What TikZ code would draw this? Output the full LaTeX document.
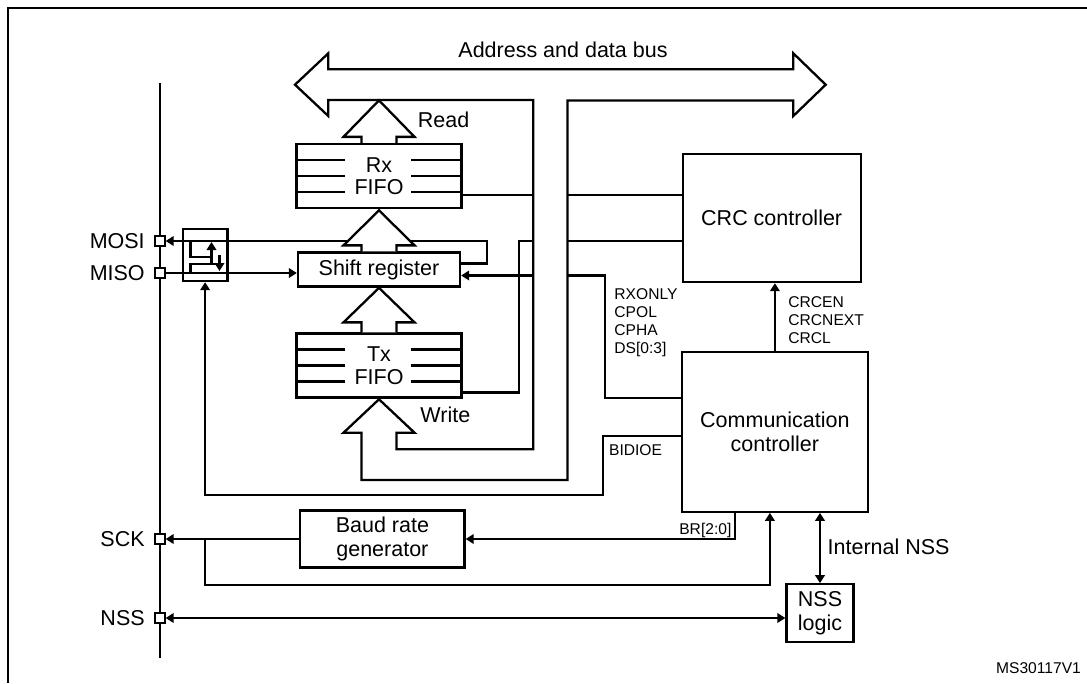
\documentclass[tikz,border=0pt]{standalone}
\usepackage{fontspec}
\setmainfont{Liberation Sans}
\usetikzlibrary{arrows.meta}
\begin{document}
\begin{tikzpicture}[x=1pt, y=-1pt, line width=2.3pt,
  every node/.style={font=\fontsize{21.5}{24.5}\selectfont},
  every label/.style={inner sep=0pt, xshift=-8.5pt},
  box/.style={draw, line width=2.3pt, inner sep=0pt, align=center},
  fifo/.style={box, minimum width=165pt, minimum height=64pt, font=\fontsize{21.5}{22.5}\selectfont},
  pin/.style={draw, fill=white, line width=1.8pt, minimum size=9.5pt, inner sep=0pt},
  sig/.style={font=\fontsize{15.6}{18.3}\selectfont, inner sep=0pt, align=left},
  arr/.style={-{Triangle[length=8pt,width=9.5pt]}},
  dblarr/.style={{Triangle[length=8pt,width=9.5pt]}-{Triangle[length=8pt,width=9.5pt]}},
  hollow/.style={fill=white, line join=miter}]
\useasboundingbox (0,0) rectangle (1087,683);
\draw[line width=2.6pt] (8,683) -- (8,8) -- (1087,8);

% address and data bus, going down into the write arrow
\draw[hollow] (328.3,100) -- (533.3,100) coordinate (wallL) -- (533.3,449.3) -- (396.5,449.3) -- (396.5,432.7) -- (414.5,432.7) -- (379,399.3) -- (343.5,432.7) -- (361.5,432.7) -- (361.5,480) -- (567.5,480) -- (567.5,100.5) coordinate (wallR) -- (793.3,100.5) -- (793.3,116) -- (825.7,84.7) -- (793.3,53.3) -- (793.3,69.3) -- (328.3,69.3) -- (328.3,53.3) -- (295,84.7) -- (328.3,116) -- cycle;
\node (bus) at (563,50) {Address and data bus};
\node[anchor=west, inner sep=0pt] (read) at (416.7,120) {Read};
\node[anchor=west, inner sep=0pt] (write) at (419.3,415) {Write};

% blocks
\node[fifo] (rx) at (379,176) {Rx\\FIFO};
\node[fifo] (tx) at (379,365.5) {Tx\\FIFO};
\foreach \f in {rx,tx} {
  \foreach \dy in {-16,0,16} {
    \draw ([yshift=\dy pt]\f.west) -- ++(50,0);
    \draw ([yshift=\dy pt]\f.east) -- ++(-52,0);
  }
}
\node[box, minimum width=162pt, minimum height=34pt] (shift) at (379,269.5) {Shift register};
\node[box, minimum width=178pt, minimum height=128pt] (crc) at (771.7,218) {CRC controller};
\node[box, minimum width=186.3pt, minimum height=160pt] (comm) at (774.9,431.7) {Communication\\controller};
\node[box, minimum width=164.3pt, minimum height=57pt] (baud) at (382.4,539) {Baud rate\\generator};
\node[box, minimum width=67pt, minimum height=57.4pt] (nss) at (820,613) {NSS\\logic};
\node[box, minimum width=44.8pt, minimum height=52pt] (sw) at (205.1,255) {};

% pins
\draw (160,83) coordinate (pintop) -- (160,658) coordinate (pinbot);
\node[pin, label={left:MOSI}] (mosi) at (160,241) {};
\node[pin, label={left:MISO}] (miso) at (160,273) {};
\node[pin, label={left:SCK}] (sck) at (160,539) {};
\node[pin, label={left:NSS}] (nsspin) at (160,618) {};

% switch
\draw (190.5,241) |- (211.5,257);
\draw (190.5,273) |- (219.5,264);
\draw[arr] (211.5,264) -- (211.5,242);
\draw[arr] (219.5,255) -- (219.5,271);

% data paths
\draw[arr] ([yshift=6pt]shift.east) -| (486.7,241) coordinate (loop) -- (mosi);
\draw[arr] (miso) -- (miso -| shift.west);
\draw ([yshift=-19pt]rx.east) -- ([yshift=-19pt]rx.east -| wallL);
\draw ([yshift=23pt]crc.west) -- ([yshift=23pt]crc.west -| wallR);
\draw ([yshift=-27pt]tx.east) -| (519.3,241) coordinate (txj) -- (txj -| wallL);
\draw ([yshift=-23pt]crc.west) -- ([yshift=-23pt]crc.west -| wallR);
\draw[arr] ([yshift=-6pt]shift.east -| wallL) -- ([yshift=-6pt]shift.east);

\draw[hollow] ([xshift=-17.5pt]rx.north) -- ++(0,-6) -- ++(-18,0) -- ++(35.5,-36.5) -- ++(35.5,36.5) -- ++(-18,0) -- ++(0,6);
\draw[hollow] ([xshift=-17.5pt]shift.north) -- ++(0,-6) -- ++(-18,0) -- ++(35.5,-35) -- ++(35.5,35) -- ++(-18,0) -- ++(0,6);
\draw[hollow] ([xshift=-17.5pt]tx.north) -- ++(0,-10) -- ++(-18,0) -- ++(35.5,-34.5) -- ++(35.5,34.5) -- ++(-18,0) -- ++(0,10);

% control signals
\draw ([yshift=33.5pt]comm.west) -| (605,275.5) coordinate (cfg) -- (cfg -| wallR);
\node[sig, anchor=north west] (cfglbl) at (613.3,287) {RXONLY\\CPOL\\CPHA\\DS[0:3]};
\draw[arr] ([yshift=-4pt]comm.west) -| (602.7,495) coordinate (bidi) -| (sw.south);
\node[sig, anchor=north west] (bidilbl) at (608,443.4) {BIDIOE};
\draw[arr] (comm.north) -- (comm.north |- crc.south);
\node[sig, anchor=north west] (crclbl) at (787.3,295) {CRCEN\\CRCNEXT\\CRCL};
\draw[arr] ([xshift=-39.6pt]comm.south) |- (baud.east);
\node[sig, anchor=base east] (brlbl) at (732.5,534) {BR[2:0]};
\draw[arr] (baud.west) -- (sck);
\draw[arr] (sw.south |- sck) -- (sw.south |- 0,585) -| ([xshift=-5pt]comm.south);
\draw[dblarr] (nss.north) -- (nss.north |- comm.south);
\node[anchor=west, inner sep=0pt] (intlbl) at (826.5,547) {Internal NSS};
\draw[dblarr] (nsspin) -- (nsspin -| nss.west);

\node[sig, anchor=east] (ref) at (1082,668.3) {MS30117V1};
\end{tikzpicture}
\end{document}
